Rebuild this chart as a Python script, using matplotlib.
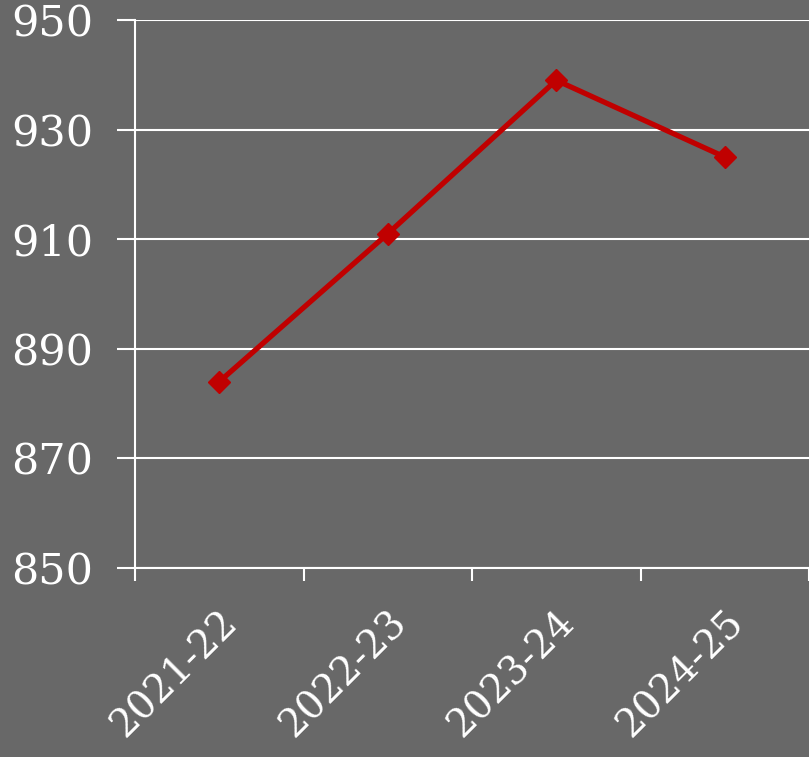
import numpy as np
import matplotlib
matplotlib.use('Agg')
import matplotlib.pyplot as plt
import matplotlib.transforms as mtransforms

# data
seasons = ['2021-22', '2022-23', '2023-24', '2024-25']
values = [884, 911, 939, 925]
yticks = [850, 870, 890, 910, 930, 950]

bg = '#686868'
plt.rcParams['font.family'] = ['DejaVu Serif']

fig = plt.figure(figsize=(8.09, 7.57), dpi=100)
fig.patch.set_facecolor(bg)
ax = fig.add_axes([135/809, 1 - 568/757, 1 - 135/809, (568 - 20)/757])
ax.set_facecolor(bg)

x = np.arange(len(seasons))
ax.plot(x, values, color='#c00000', linewidth=3.8, marker='D', markersize=11,
        zorder=3, clip_on=False)

ax.set_xlim(-0.5, 3.5)
ax.set_ylim(850, 950)
ax.set_yticks(yticks)
ax.set_yticklabels([str(v) for v in yticks], fontsize=31, color='white')
ax.yaxis.grid(True, color='white', linewidth=1.5)
ax.set_axisbelow(True)

# category ticks between labels
ax.set_xticks(np.arange(-0.5, 3.6, 1.0))
ax.set_xticklabels([])
ax.set_xticks(x, minor=True)
ax.set_xticklabels(seasons, minor=True, rotation=45, ha='right', va='top',
                   rotation_mode='anchor', fontsize=28, color='white')
shift = mtransforms.ScaledTranslation(5/100, 0, fig.dpi_scale_trans)
for lab in ax.get_xticklabels(minor=True):
    lab.set_transform(lab.get_transform() + shift)
ax.tick_params(axis='x', which='minor', length=0, pad=26)
ax.tick_params(axis='x', which='major', length=9, width=1.5, color='white')
ax.tick_params(axis='y', length=13, width=1.5, color='white', pad=17)

for s in ['top', 'right']:
    ax.spines[s].set_visible(False)
ax.spines['left'].set_color('white')
ax.spines['left'].set_linewidth(1.5)
ax.spines['bottom'].set_color('white')
ax.spines['bottom'].set_linewidth(1.5)

fig.savefig('out.png', dpi=100, facecolor=bg)
